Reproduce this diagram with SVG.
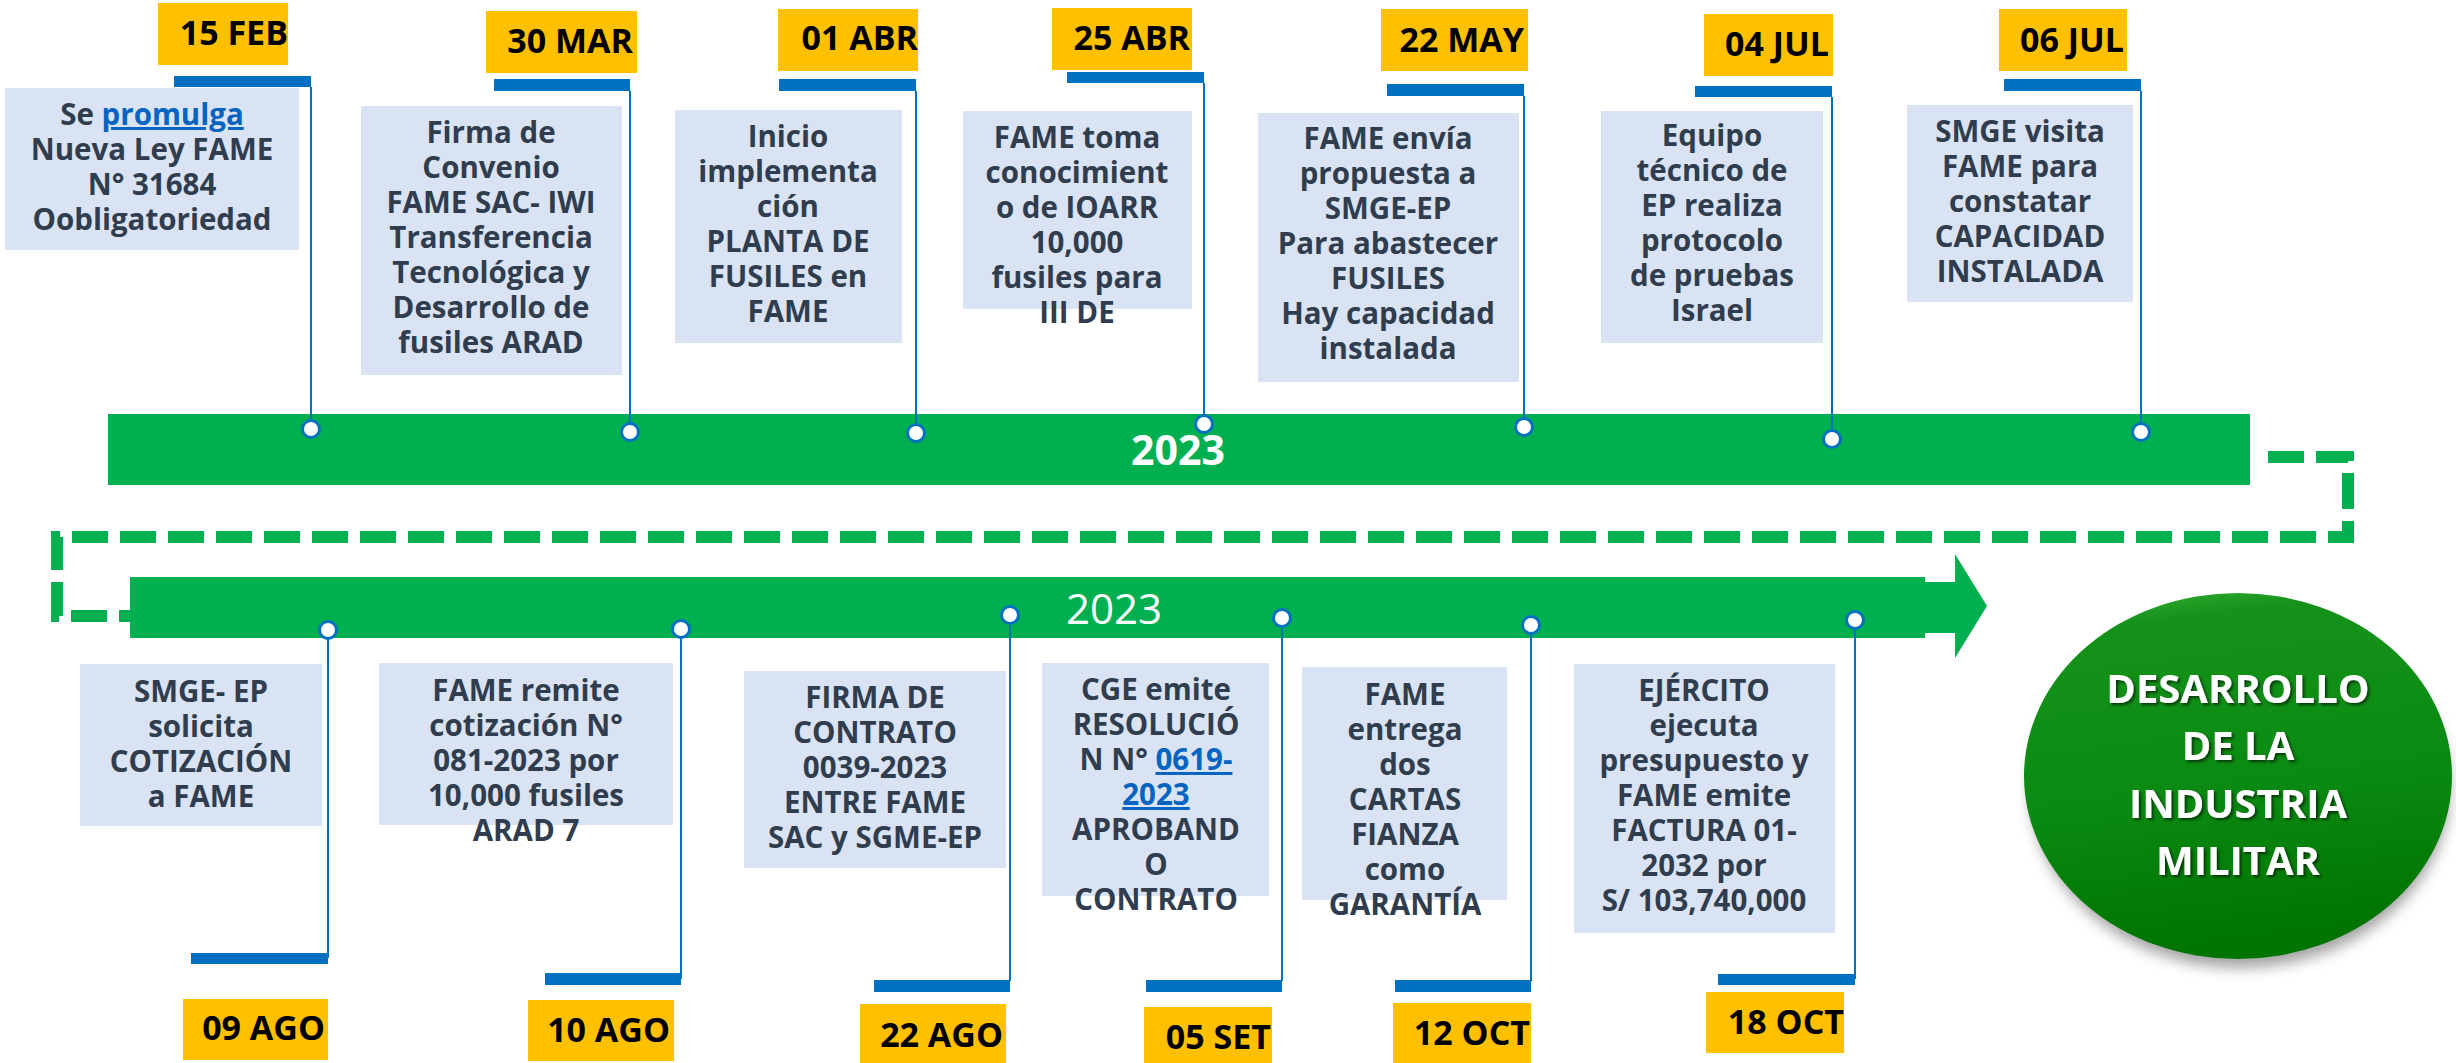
<svg xmlns="http://www.w3.org/2000/svg" width="2456" height="1063" viewBox="0 0 2456 1063">
<defs>
<style>
.bar{fill:#00b050}
.yel{fill:#ffc000}
.blu{fill:#0070c0}
.box{fill:#dae3f3}
.date{font-family:"Open Sans","Liberation Sans",sans-serif;font-weight:700;font-size:34px;fill:#000;text-anchor:end}
.txt{font-family:"Open Sans","Liberation Sans",sans-serif;font-weight:700;font-size:29.5px;fill:#2f3d4e;text-anchor:middle}
.lnk{fill:#0563c1;text-decoration:underline}
.stem{stroke:#0070c0;stroke-width:2;fill:none}
.dot{fill:#fff;stroke:#0070c0;stroke-width:3}
.dash{stroke:#00b050;stroke-width:12;fill:none;stroke-dasharray:36 12}
.big{font-family:"Open Sans","Liberation Sans",sans-serif;font-weight:700;font-size:40px;fill:#fff;text-anchor:middle}
</style>
<linearGradient id="gg" x1="0" y1="0" x2="0.15" y2="1">
<stop offset="0" stop-color="#3cb53c"/>
<stop offset="0.12" stop-color="#15921a"/>
<stop offset="0.6" stop-color="#0a8a12"/>
<stop offset="1" stop-color="#007400"/>
</linearGradient>
<filter id="sh" x="-20%" y="-20%" width="140%" height="150%">
<feGaussianBlur stdDeviation="7"/>
</filter>
<filter id="ts" x="-10%" y="-30%" width="120%" height="160%">
<feDropShadow dx="2" dy="2" stdDeviation="1.5" flood-color="#000" flood-opacity="0.6"/>
</filter>
</defs>
<rect width="2456" height="1063" fill="#fff"/>

<g id="timeline-top">
<rect class="bar" x="108" y="414" width="2142" height="71"/>
<text x="1178" y="465" font-family="'Open Sans','Liberation Sans',sans-serif" font-weight="700" font-size="41" fill="#fff" text-anchor="middle">2023</text>
</g>
<g id="timeline-bottom">
<polygon class="bar" points="130,577 1925,577 1925,582 1955,582 1955,554 1987,606 1955,658 1955,633 1925,633 1925,638 130,638"/>
<text x="1114" y="624" font-family="'Open Sans','Liberation Sans',sans-serif" font-size="42" fill="#fff" text-anchor="middle">2023</text>
</g>

<g id="connectors">
<path class="dash" d="M2268,457 H2348 V537 H57 V616 H130"/>
<path class="stem" d="M311,87 V420 M630,91 V423 M916,91 V424 M1204,83 V415 M1524,96 V418 M1832,97 V430 M2141,91 V423"/>
<path class="stem" d="M328,639 V958 M681,638 V979 M1010,624 V981 M1282,627 V981 M1531,634 V981 M1855,629 V979"/>
<circle class="dot" cx="311" cy="429" r="8.5"/>
<circle class="dot" cx="630" cy="432" r="8.5"/>
<circle class="dot" cx="916" cy="433" r="8.5"/>
<circle class="dot" cx="1204" cy="424" r="8.5"/>
<circle class="dot" cx="1524" cy="427" r="8.5"/>
<circle class="dot" cx="1832" cy="439" r="8.5"/>
<circle class="dot" cx="2141" cy="432" r="8.5"/>
<circle class="dot" cx="328" cy="630" r="8.5"/>
<circle class="dot" cx="681" cy="629" r="8.5"/>
<circle class="dot" cx="1010" cy="615" r="8.5"/>
<circle class="dot" cx="1282" cy="618" r="8.5"/>
<circle class="dot" cx="1531" cy="625" r="8.5"/>
<circle class="dot" cx="1855" cy="620" r="8.5"/>
</g>

<g id="ev-15feb">
<rect class="yel" x="158" y="3" width="130" height="62"/>
<text class="date" x="288" y="45">15 FEB</text>
<rect class="blu" x="174" y="76" width="137" height="11"/>
<rect class="box" x="5" y="88" width="294" height="162"/>
<text class="txt" y="125"><tspan x="152">Se <tspan class="lnk">promulga</tspan></tspan><tspan x="152" dy="35">Nueva Ley FAME</tspan><tspan x="152" dy="35">N° 31684</tspan><tspan x="152" dy="35">Oobligatoriedad</tspan></text>
</g>

<g id="ev-30mar">
<rect class="yel" x="486" y="11" width="151" height="62"/>
<text class="date" x="633" y="53">30 MAR</text>
<rect class="blu" x="494" y="79" width="136" height="12"/>
<rect class="box" x="361" y="106" width="261" height="269"/>
<text class="txt" y="143"><tspan x="491">Firma de</tspan><tspan x="491" dy="35">Convenio</tspan><tspan x="491" dy="35">FAME SAC- IWI</tspan><tspan x="491" dy="35">Transferencia</tspan><tspan x="491" dy="35">Tecnológica y</tspan><tspan x="491" dy="35">Desarrollo de</tspan><tspan x="491" dy="35">fusiles ARAD</tspan></text>
</g>

<g id="ev-01abr">
<rect class="yel" x="778" y="9" width="140" height="62"/>
<text class="date" x="918" y="50">01 ABR</text>
<rect class="blu" x="779" y="79" width="137" height="12"/>
<rect class="box" x="675" y="110" width="227" height="233"/>
<text class="txt" y="147"><tspan x="788">Inicio</tspan><tspan x="788" dy="35">implementa</tspan><tspan x="788" dy="35">ción</tspan><tspan x="788" dy="35">PLANTA DE</tspan><tspan x="788" dy="35">FUSILES en</tspan><tspan x="788" dy="35">FAME</tspan></text>
</g>

<g id="ev-25abr">
<rect class="yel" x="1052" y="8" width="140" height="62"/>
<text class="date" x="1190" y="50">25 ABR</text>
<rect class="blu" x="1067" y="72" width="137" height="11"/>
<rect class="box" x="963" y="111" width="229" height="198"/>
<text class="txt" y="148"><tspan x="1077">FAME toma</tspan><tspan x="1077" dy="35">conocimient</tspan><tspan x="1077" dy="35">o de IOARR</tspan><tspan x="1077" dy="35">10,000</tspan><tspan x="1077" dy="35">fusiles para</tspan><tspan x="1077" dy="35">III DE</tspan></text>
</g>

<g id="ev-22may">
<rect class="yel" x="1381" y="9" width="147" height="62"/>
<text class="date" x="1524" y="52">22 MAY</text>
<rect class="blu" x="1387" y="84" width="137" height="12"/>
<rect class="box" x="1258" y="113" width="261" height="269"/>
<text class="txt" y="149"><tspan x="1388">FAME envía</tspan><tspan x="1388" dy="35">propuesta a</tspan><tspan x="1388" dy="35">SMGE-EP</tspan><tspan x="1388" dy="35">Para abastecer</tspan><tspan x="1388" dy="35">FUSILES</tspan><tspan x="1388" dy="35">Hay capacidad</tspan><tspan x="1388" dy="35">instalada</tspan></text>
</g>

<g id="ev-04jul">
<rect class="yel" x="1704" y="14" width="129" height="62"/>
<text class="date" x="1829" y="56">04 JUL</text>
<rect class="blu" x="1695" y="86" width="137" height="11"/>
<rect class="box" x="1601" y="111" width="222" height="232"/>
<text class="txt" y="146"><tspan x="1712">Equipo</tspan><tspan x="1712" dy="35">técnico de</tspan><tspan x="1712" dy="35">EP realiza</tspan><tspan x="1712" dy="35">protocolo</tspan><tspan x="1712" dy="35">de pruebas</tspan><tspan x="1712" dy="35">Israel</tspan></text>
</g>

<g id="ev-06jul">
<rect class="yel" x="1999" y="9" width="128" height="62"/>
<text class="date" x="2124" y="52">06 JUL</text>
<rect class="blu" x="2004" y="79" width="137" height="12"/>
<rect class="box" x="1907" y="105" width="226" height="197"/>
<text class="txt" y="142"><tspan x="2020">SMGE visita</tspan><tspan x="2020" dy="35">FAME para</tspan><tspan x="2020" dy="35">constatar</tspan><tspan x="2020" dy="35">CAPACIDAD</tspan><tspan x="2020" dy="35">INSTALADA</tspan></text>
</g>

<g id="ev-09ago">
<rect class="box" x="80" y="664" width="242" height="162"/>
<text class="txt" y="702"><tspan x="201">SMGE- EP</tspan><tspan x="201" dy="35">solicita</tspan><tspan x="201" dy="35">COTIZACIÓN</tspan><tspan x="201" dy="35">a FAME</tspan></text>
<rect class="blu" x="191" y="953" width="137" height="11"/>
<rect class="yel" x="183" y="999" width="145" height="61"/>
<text class="date" x="325" y="1040">09 AGO</text>
</g>

<g id="ev-10ago">
<rect class="box" x="379" y="663" width="294" height="162"/>
<text class="txt" y="701"><tspan x="526">FAME remite</tspan><tspan x="526" dy="35">cotización N°</tspan><tspan x="526" dy="35">081-2023 por</tspan><tspan x="526" dy="35">10,000 fusiles</tspan><tspan x="526" dy="35">ARAD 7</tspan></text>
<rect class="blu" x="545" y="973" width="136" height="12"/>
<rect class="yel" x="528" y="1000" width="146" height="61"/>
<text class="date" x="670" y="1042">10 AGO</text>
</g>

<g id="ev-22ago">
<rect class="box" x="744" y="671" width="262" height="197"/>
<text class="txt" y="708"><tspan x="875">FIRMA DE</tspan><tspan x="875" dy="35">CONTRATO</tspan><tspan x="875" dy="35">0039-2023</tspan><tspan x="875" dy="35">ENTRE FAME</tspan><tspan x="875" dy="35">SAC y SGME-EP</tspan></text>
<rect class="blu" x="874" y="980" width="136" height="12"/>
<rect class="yel" x="860" y="1004" width="146" height="59"/>
<text class="date" x="1003" y="1047">22 AGO</text>
</g>

<g id="ev-05set">
<rect class="box" x="1042" y="663" width="227" height="233"/>
<text class="txt" y="700"><tspan x="1156">CGE emite</tspan><tspan x="1156" dy="35">RESOLUCIÓ</tspan><tspan x="1156" dy="35">N N° <tspan class="lnk">0619-</tspan></tspan><tspan x="1156" dy="35" class="lnk">2023</tspan><tspan x="1156" dy="35">APROBAND</tspan><tspan x="1156" dy="35">O</tspan><tspan x="1156" dy="35">CONTRATO</tspan></text>
<rect class="blu" x="1146" y="980" width="136" height="12"/>
<rect class="yel" x="1144" y="1007" width="128" height="56"/>
<text class="date" x="1271" y="1049">05 SET</text>
</g>

<g id="ev-12oct">
<rect class="box" x="1302" y="667" width="205" height="233"/>
<text class="txt" y="705"><tspan x="1405">FAME</tspan><tspan x="1405" dy="35">entrega</tspan><tspan x="1405" dy="35">dos</tspan><tspan x="1405" dy="35">CARTAS</tspan><tspan x="1405" dy="35">FIANZA</tspan><tspan x="1405" dy="35">como</tspan><tspan x="1405" dy="35">GARANTÍA</tspan></text>
<rect class="blu" x="1395" y="980" width="136" height="12"/>
<rect class="yel" x="1393" y="1003" width="138" height="60"/>
<text class="date" x="1530" y="1045">12 OCT</text>
</g>

<g id="ev-18oct">
<rect class="box" x="1574" y="664" width="261" height="269"/>
<text class="txt" y="701"><tspan x="1704">EJÉRCITO</tspan><tspan x="1704" dy="35">ejecuta</tspan><tspan x="1704" dy="35">presupuesto y</tspan><tspan x="1704" dy="35">FAME emite</tspan><tspan x="1704" dy="35">FACTURA 01-</tspan><tspan x="1704" dy="35">2032 por</tspan><tspan x="1704" dy="35">S/ 103,740,000</tspan></text>
<rect class="blu" x="1718" y="974" width="137" height="11"/>
<rect class="yel" x="1706" y="992" width="138" height="61"/>
<text class="date" x="1844" y="1034">18 OCT</text>
</g>

<g id="desarrollo">
<ellipse cx="2240" cy="788" rx="210" ry="180" fill="#8c8c8c" opacity="0.8" filter="url(#sh)"/>
<ellipse cx="2238" cy="776" rx="214" ry="183" fill="url(#gg)"/>
<text class="big" y="703" filter="url(#ts)"><tspan x="2238">DESARROLLO</tspan><tspan x="2238" dy="57">DE LA</tspan><tspan x="2238" dy="58">INDUSTRIA</tspan><tspan x="2238" dy="57">MILITAR</tspan></text>
</g>
</svg>
